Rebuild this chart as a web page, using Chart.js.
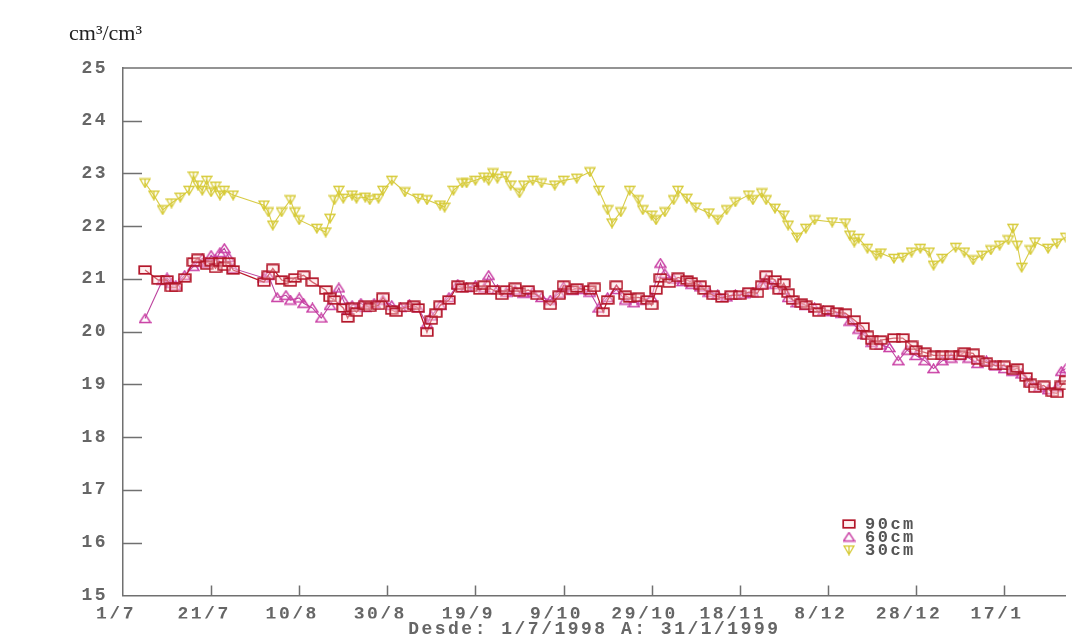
<!DOCTYPE html>
<html>
<head>
<meta charset="utf-8">
<script src="https://cdn.jsdelivr.net/npm/chart.js@4.4.1/dist/chart.umd.min.js"></script>
<style>
  html, body { margin: 0; padding: 0; background: #fff; }
  canvas { display: block; }
</style>
</head>
<body>
<canvas id="chart" width="1072" height="643"></canvas>
<script>
// Soil water content (cm³/cm³) at 30, 60 and 90 cm depth.
// x values are days counted from 1 July 1998.

const xTickDays   = [0, 20, 40, 60, 80, 100, 120, 140, 160, 180, 200];
const xTickLabels = ['1/7', '21/7', '10/8', '30/8', '19/9', '9/10', '29/10', '18/11', '8/12', '28/12', '17/1'];
const yTicks      = [15, 16, 17, 18, 19, 20, 21, 22, 23, 24, 25];
const seriesNames = ['90cm', '60cm', '30cm'];

const days90 = [
  5, 8, 10, 11, 12, 14, 16, 17, 19, 20,
  21, 22, 23, 24, 25, 32, 33, 34, 36, 38,
  39, 41, 43, 46, 47, 48, 50, 51, 52, 53,
  55, 56, 58, 59, 61, 62, 64, 66, 67, 69,
  70, 71, 72, 74, 76, 77, 79, 81, 82, 84,
  86, 87, 89, 90, 92, 94, 97, 99, 100, 102,
  103, 106, 107, 109, 110, 112, 114, 115, 117, 119,
  120, 121, 122, 124, 126, 128, 129, 131, 132, 134,
  136, 138, 140, 142, 144, 145, 146, 148, 149, 150,
  151, 152, 154, 155, 157, 158, 160, 162, 164, 166,
  168, 169, 170, 171, 172, 175, 177, 179, 180, 182,
  184, 186, 188, 190, 191, 193, 194, 196, 198, 200,
  202, 203, 205, 206, 207, 209, 211, 212, 213, 214
];
const values90 = [
  21.17, 20.98, 20.98, 20.84, 20.84, 21.02, 21.32, 21.39, 21.26, 21.32,
  21.20, 21.32, 21.24, 21.32, 21.17, 20.94, 21.07, 21.20, 20.98, 20.94,
  21.02, 21.07, 20.94, 20.79, 20.65, 20.60, 20.45, 20.26, 20.46, 20.37,
  20.50, 20.46, 20.50, 20.65, 20.41, 20.37, 20.46, 20.50, 20.45, 19.99,
  20.22, 20.35, 20.50, 20.60, 20.88, 20.83, 20.84, 20.79, 20.88, 20.79,
  20.69, 20.79, 20.84, 20.75, 20.79, 20.69, 20.50, 20.69, 20.88, 20.79,
  20.83, 20.79, 20.84, 20.37, 20.60, 20.88, 20.69, 20.64, 20.65, 20.60,
  20.50, 20.79, 21.02, 20.92, 21.03, 20.98, 20.94, 20.88, 20.79, 20.69,
  20.64, 20.69, 20.69, 20.75, 20.73, 20.88, 21.07, 20.98, 20.79, 20.92,
  20.73, 20.60, 20.54, 20.50, 20.45, 20.37, 20.41, 20.37, 20.35, 20.22,
  20.09, 19.93, 19.84, 19.74, 19.84, 19.88, 19.88, 19.74, 19.65, 19.61,
  19.55, 19.55, 19.55, 19.55, 19.61, 19.59, 19.46, 19.42, 19.36, 19.36,
  19.27, 19.31, 19.14, 19.02, 18.93, 18.98, 18.85, 18.83, 18.98, 19.08
];

const days60 = [
  5, 9, 10, 11, 12, 14, 16, 17, 18, 19,
  20, 21, 22, 23, 24, 25, 32, 33, 35, 37,
  38, 40, 41, 43, 45, 47, 49, 50, 51, 52,
  54, 55, 57, 59, 61, 63, 65, 67, 69, 70,
  72, 74, 76, 78, 80, 82, 83, 85, 87, 89,
  91, 93, 95, 97, 99, 100, 102, 104, 106, 108,
  110, 112, 114, 116, 118, 120, 122, 123, 125, 127,
  129, 131, 133, 135, 137, 139, 141, 143, 145, 146,
  148, 150, 151, 153, 155, 157, 159, 161, 163, 165,
  167, 168, 170, 172, 174, 176, 178, 180, 182, 184,
  186, 188, 190, 192, 194, 196, 198, 200, 202, 204,
  206, 208, 210, 212, 213, 214
];
const values60 = [
  20.25, 20.98, 21.02, 20.92, 20.88, 21.07, 21.24, 21.32, 21.39, 21.30,
  21.45, 21.36, 21.50, 21.58, 21.41, 21.20, 21.02, 21.07, 20.65, 20.69,
  20.60, 20.64, 20.54, 20.45, 20.26, 20.50, 20.83, 20.60, 20.41, 20.50,
  20.54, 20.46, 20.54, 20.60, 20.50, 20.46, 20.52, 20.45, 20.15, 20.30,
  20.50, 20.65, 20.90, 20.84, 20.88, 20.83, 21.07, 20.80, 20.75, 20.79,
  20.73, 20.75, 20.65, 20.60, 20.73, 20.85, 20.79, 20.80, 20.75, 20.45,
  20.65, 20.80, 20.60, 20.55, 20.60, 20.65, 21.30, 21.10, 21.00, 20.95,
  20.90, 20.85, 20.75, 20.70, 20.66, 20.70, 20.72, 20.75, 20.90, 21.00,
  20.90, 20.80, 20.65, 20.55, 20.50, 20.45, 20.40, 20.38, 20.35, 20.20,
  20.05, 19.95, 19.80, 19.75, 19.70, 19.45, 19.65, 19.55, 19.45, 19.30,
  19.45, 19.50, 19.55, 19.50, 19.40, 19.45, 19.35, 19.30, 19.25, 19.20,
  19.05, 18.95, 18.90, 18.95, 19.25, 19.30
];

const days30 = [
  5, 7, 9, 11, 13, 15, 16, 17, 18, 19,
  20, 21, 22, 23, 25, 32, 33, 34, 36, 38,
  39, 40, 44, 46, 47, 48, 49, 50, 52, 53,
  55, 56, 58, 59, 61, 64, 67, 69, 72, 73,
  75, 77, 78, 80, 82, 83, 84, 85, 87, 88,
  90, 91, 93, 95, 98, 100, 103, 106, 108, 110,
  111, 113, 115, 117, 118, 120, 121, 123, 125, 126,
  128, 130, 133, 135, 137, 139, 142, 143, 145, 146,
  148, 150, 151, 153, 155, 157, 161, 164, 165, 166,
  167, 169, 171, 172, 175, 177, 179, 181, 183, 184,
  186, 189, 191, 193, 195, 197, 199, 201, 202, 203,
  204, 206, 207, 210, 212, 214
];
const values30 = [
  22.82, 22.59, 22.31, 22.44, 22.55, 22.68, 22.95, 22.78, 22.68, 22.87,
  22.65, 22.76, 22.59, 22.68, 22.59, 22.40, 22.27, 22.02, 22.27, 22.50,
  22.27, 22.12, 21.96, 21.89, 22.15, 22.50, 22.68, 22.53, 22.59, 22.53,
  22.55, 22.50, 22.53, 22.68, 22.87, 22.65, 22.53, 22.50, 22.40, 22.36,
  22.68, 22.82, 22.82, 22.87, 22.93, 22.87, 23.01, 22.91, 22.95, 22.78,
  22.63, 22.78, 22.87, 22.82, 22.78, 22.87, 22.91, 23.03, 22.68, 22.31,
  22.06, 22.27, 22.68, 22.50, 22.31, 22.21, 22.12, 22.27, 22.50, 22.68,
  22.53, 22.36, 22.25, 22.12, 22.31, 22.46, 22.59, 22.50, 22.63, 22.50,
  22.34, 22.21, 22.02, 21.79, 21.96, 22.12, 22.08, 22.06, 21.83, 21.70,
  21.77, 21.58, 21.45, 21.49, 21.39, 21.41, 21.51, 21.58, 21.51, 21.26,
  21.39, 21.60, 21.51, 21.36, 21.45, 21.55, 21.64, 21.74, 21.96, 21.64,
  21.22, 21.55, 21.70, 21.58, 21.68, 21.79
];

// ---- marker glyphs -------------------------------------------------------
function glyph(w, h, paint) {
  const c = document.createElement('canvas');
  c.width = w; c.height = h;
  paint(c.getContext('2d'), w, h);
  return c;
}
const squareGlyph = glyph(14, 10, (g, w, h) => {
  g.fillStyle = 'rgba(255,220,220,0.4)';
  g.fillRect(1, 1, w - 2, h - 2);
  g.strokeStyle = '#b3162a';
  g.lineWidth = 1.7;
  g.strokeRect(1.2, 1.2, w - 2.4, h - 2.4);
});
const triangleGlyph = glyph(13, 11, (g, w, h) => {
  g.strokeStyle = '#c93ea4';
  g.lineWidth = 1.4;
  g.beginPath();
  g.moveTo(1, h - 1.5); g.lineTo(w / 2, 1); g.lineTo(w - 1, h - 1.5); g.closePath();
  g.stroke();
});
const starGlyph = glyph(12, 11, (g, w, h) => {
  g.strokeStyle = '#d6ca36';
  g.lineWidth = 1.3;
  g.beginPath();
  g.moveTo(1, 1.5); g.lineTo(w - 1, 1.5); g.lineTo(w / 2, h - 1); g.closePath();
  g.moveTo(w / 2, 1.5); g.lineTo(w / 2, h - 1);
  g.stroke();
});

const toPoints = (d, v) => d.map((day, i) => ({ x: day, y: v[i] }));

const textGray = '#666';
const monoFont = { family: "'Liberation Mono', 'DejaVu Sans Mono', monospace", size: 18, weight: 'bold' };
const labelSpacing = '2.5px';

// Wide letter spacing for the monospaced axis and footer text
const wideText = {
  id: 'wideText',
  beforeUpdate(chart) { chart.ctx.letterSpacing = labelSpacing; },
  beforeLayout(chart) { chart.ctx.letterSpacing = labelSpacing; },
  beforeDraw(chart) { chart.ctx.letterSpacing = labelSpacing; }
};

// Frame, inward tick marks, unit label and legend
const chartDecor = {
  id: 'chartDecor',
  beforeDatasetsDraw(chart) {
    const { ctx, chartArea: a, scales: { x, y } } = chart;
    ctx.save();
    ctx.strokeStyle = '#707070';
    ctx.lineWidth = 1.5;
    ctx.beginPath();
    ctx.moveTo(a.left, a.top);
    ctx.lineTo(chart.width, a.top);
    yTicks.slice(1, -1).forEach(v => {
      const py = Math.round(y.getPixelForValue(v)) + 0.5;
      ctx.moveTo(a.left, py);
      ctx.lineTo(a.left + 19, py);
    });
    xTickDays.slice(1).forEach(d => {
      const px = Math.round(x.getPixelForValue(d)) + 0.5;
      ctx.moveTo(px, a.bottom);
      ctx.lineTo(px, a.bottom - 10);
    });
    ctx.stroke();
    ctx.restore();
  },
  afterDraw(chart, args, opts) {
    const { ctx } = chart;
    ctx.save();
    // unit label
    ctx.letterSpacing = '0px';
    ctx.fillStyle = '#222';
    ctx.font = "22px 'Liberation Serif', 'Times New Roman', serif";
    ctx.textBaseline = 'alphabetic';
    ctx.textAlign = 'left';
    ctx.fillText('cm³/cm³', 69, 40);
    // legend
    const glyphs = [squareGlyph, triangleGlyph, starGlyph];
    ctx.letterSpacing = labelSpacing;
    ctx.font = "bold 17px 'Liberation Mono', monospace";
    ctx.textBaseline = 'middle';
    chart.data.datasets.forEach((ds, i) => {
      const cy = opts.top + i * opts.rowGap;
      const gl = glyphs[i];
      ctx.drawImage(gl, opts.left - gl.width / 2, cy - gl.height / 2);
      ctx.fillStyle = '#555';
      ctx.fillText(ds.label, opts.left + 16, cy + 1);
    });
    ctx.restore();
  }
};

new Chart(document.getElementById('chart'), {
  type: 'line',
  data: {
    datasets: [
      {
        label: seriesNames[0],
        data: toPoints(days90, values90),
        borderColor: '#bb1a2c',
        borderWidth: 1.3,
        pointStyle: squareGlyph,
        pointRadius: 5
      },
      {
        label: seriesNames[1],
        data: toPoints(days60, values60),
        borderColor: '#bd449f',
        borderWidth: 1.1,
        pointStyle: triangleGlyph,
        pointRadius: 5
      },
      {
        label: seriesNames[2],
        data: toPoints(days30, values30),
        borderColor: '#d8cc48',
        borderWidth: 1.1,
        pointStyle: starGlyph,
        pointRadius: 5
      }
    ]
  },
  options: {
    responsive: false,
    animation: false,
    devicePixelRatio: 1,
    layout: { padding: { top: 68, right: 3, left: 0, bottom: 3 } },
    elements: { line: { tension: 0, fill: false } },
    scales: {
      x: {
        type: 'linear',
        min: 0,
        max: 214,
        afterBuildTicks: s => { s.ticks = xTickDays.map(v => ({ value: v })); },
        afterFit: s => { s.height = 23; },
        border: { display: true, color: '#707070', width: 1.5 },
        grid: { display: true, drawOnChartArea: false, drawTicks: false },
        ticks: {
          color: textGray,
          font: monoFont,
          padding: 8,
          labelOffset: -7,
          maxRotation: 0,
          autoSkip: false,
          callback: v => xTickLabels[xTickDays.indexOf(v)] ?? ''
        }
      },
      y: {
        min: 15,
        max: 25,
        afterBuildTicks: s => { s.ticks = yTicks.map(v => ({ value: v })); },
        afterFit: s => { s.width = 123; },
        border: { display: true, color: '#707070', width: 1.5 },
        grid: { display: true, drawOnChartArea: false, drawTicks: false },
        ticks: { color: textGray, font: monoFont, padding: 15 }
      }
    },
    plugins: {
      legend: { display: false },
      tooltip: { enabled: false },
      title: {
        display: true,
        position: 'bottom',
        fullSize: false,
        text: 'Desde: 1/7/1998 A: 31/1/1999',
        color: textGray,
        font: monoFont,
        padding: { top: 0, bottom: 0 }
      },
      chartDecor: { left: 849, top: 524, rowGap: 13 }
    }
  },
  plugins: [wideText, chartDecor]
});
</script>
</body>
</html>
